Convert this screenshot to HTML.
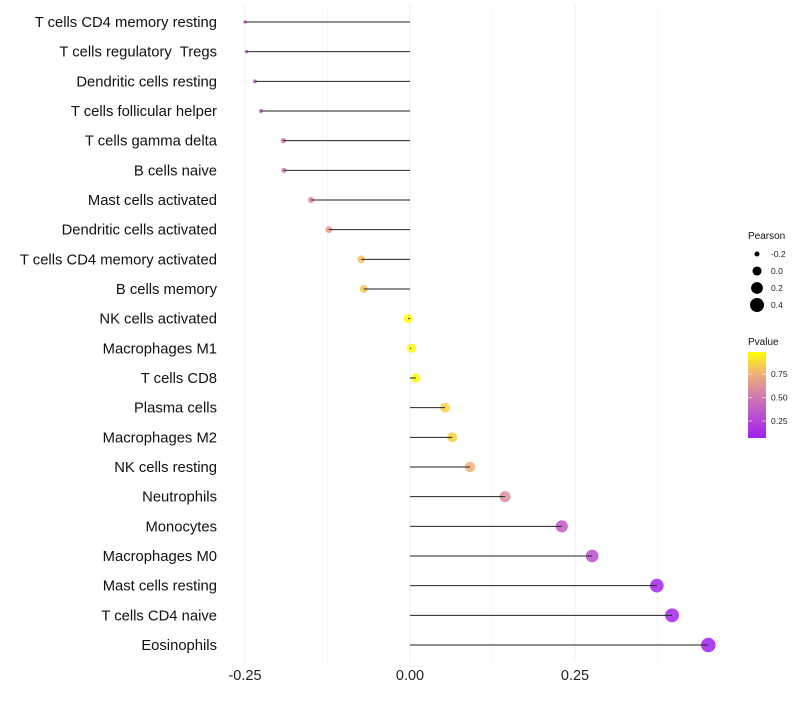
<!DOCTYPE html>
<html><head><meta charset="utf-8"><style>
body{margin:0;background:#fff;font-family:"Liberation Sans",sans-serif}
svg text{font-family:"Liberation Sans",sans-serif;white-space:pre}
</style></head><body>
<svg id="chart" width="800" height="700" xmlns="http://www.w3.org/2000/svg"></svg>
<script>
const categories=["T cells CD4 memory resting","T cells regulatory  Tregs","Dendritic cells resting","T cells follicular helper","T cells gamma delta","B cells naive","Mast cells activated","Dendritic cells activated","T cells CD4 memory activated","B cells memory","NK cells activated","Macrophages M1","T cells CD8","Plasma cells","Macrophages M2","NK cells resting","Neutrophils","Monocytes","Macrophages M0","Mast cells resting","T cells CD4 naive","Eosinophils"];
const pearson=[-0.25,-0.248,-0.235,-0.226,-0.192,-0.191,-0.15,-0.123,-0.074,-0.07,-0.003,0.002,0.009,0.053,0.064,0.091,0.144,0.23,0.276,0.374,0.397,0.452];
const pvalue=[0.35,0.35,0.37,0.4,0.48,0.5,0.6,0.68,0.8,0.82,0.98,0.99,0.97,0.85,0.85,0.75,0.6,0.35,0.3,0.1,0.1,0.07];
const xTicks=[-0.25,0,0.25];
const xTickLabels=["-0.25","0.00","0.25"];
const sizeLegend=[-0.2,0.0,0.2,0.4];
const pTicks=[0.25,0.5,0.75];
const svg=document.getElementById('chart');
const NS="http://www.w3.org/2000/svg";
const x=v=>410+660*v;
const y=i=>22+i*29.667;
const rad=v=>Math.sqrt(Math.max(3,20.5+71.25*v));
const stops=[[0.07,[160,32,240]],[0.5,[208,120,176]],[0.75,[240,176,120]],[0.98,[255,255,0]]];
function col(p){p=Math.max(0.07,Math.min(0.98,p));for(let k=0;k<stops.length-1;k++){const[a,ca]=stops[k],[b,cb]=stops[k+1];if(p<=b){const t=(p-a)/(b-a);return 'rgb('+ca.map((c,j)=>Math.round(c+(cb[j]-c)*t)).join(',')+')';}}return 'rgb(255,255,0)';}
function el(t,a,txt){const e=document.createElementNS(NS,t);for(const k in a)e.setAttribute(k,a[k]);if(txt!==undefined)e.textContent=txt;svg.appendChild(e);return e;}
[-0.25,-0.125,0,0.125,0.25,0.375].forEach(v=>{const g=el('line',{x1:x(v),x2:x(v),y1:5,y2:662,stroke:v*8%2===0?'#eeeeee':'#f6f6f6','stroke-width':1});

});
xTicks.forEach((v,i)=>{const t=el('text',{x:x(v),y:680,'text-anchor':'middle','font-size':14.5,fill:'#222'},xTickLabels[i]);

});
categories.forEach((c,i)=>{
const t=el('text',{x:217,y:y(i)+5,'text-anchor':'end','font-size':14.8,fill:'#111'},c);


const d=el('circle',{cx:x(pearson[i]),cy:y(i),r:rad(pearson[i]),fill:col(pvalue[i]),'fill-opacity':0.85});


const l=el('line',{x1:x(0),x2:x(pearson[i]),y1:y(i),y2:y(i),stroke:'#222','stroke-width':1});


});
const lt=el('text',{x:748,y:239,'font-size':10,fill:'#111'},'Pearson');


sizeLegend.forEach((v,i)=>{const cy=254+i*17;
const c=el('circle',{cx:757,cy:cy,r:rad(v),fill:'#000'});


const t=el('text',{x:771,y:cy+3,'font-size':8.5,fill:'#222'},v.toFixed(1));

});
const pt=el('text',{x:748,y:345,'font-size':10,fill:'#111'},'Pvalue');


const defs=el('defs',{});const gr=document.createElementNS(NS,'linearGradient');gr.setAttribute('id','pg');gr.setAttribute('x1',0);gr.setAttribute('y1',1);gr.setAttribute('x2',0);gr.setAttribute('y2',0);defs.appendChild(gr);
stops.forEach(s=>{const st=document.createElementNS(NS,'stop');st.setAttribute('offset',(s[0]-0.07)/0.91);st.setAttribute('stop-color','rgb('+s[1].join(',')+')');gr.appendChild(st);});
const py=v=>438-(v-0.07)*94;
const bar=el('rect',{x:748,y:352,width:18,height:86,fill:'url(#pg)'});


pTicks.forEach(v=>{el('line',{x1:748,x2:752,y1:py(v),y2:py(v),stroke:'#fff','stroke-opacity':0.6});el('line',{x1:762,x2:766,y1:py(v),y2:py(v),stroke:'#fff','stroke-opacity':0.6});
const t=el('text',{x:771,y:py(v)+3,'font-size':8.5,fill:'#222'},v.toFixed(2));

});
</script>
</body></html>
